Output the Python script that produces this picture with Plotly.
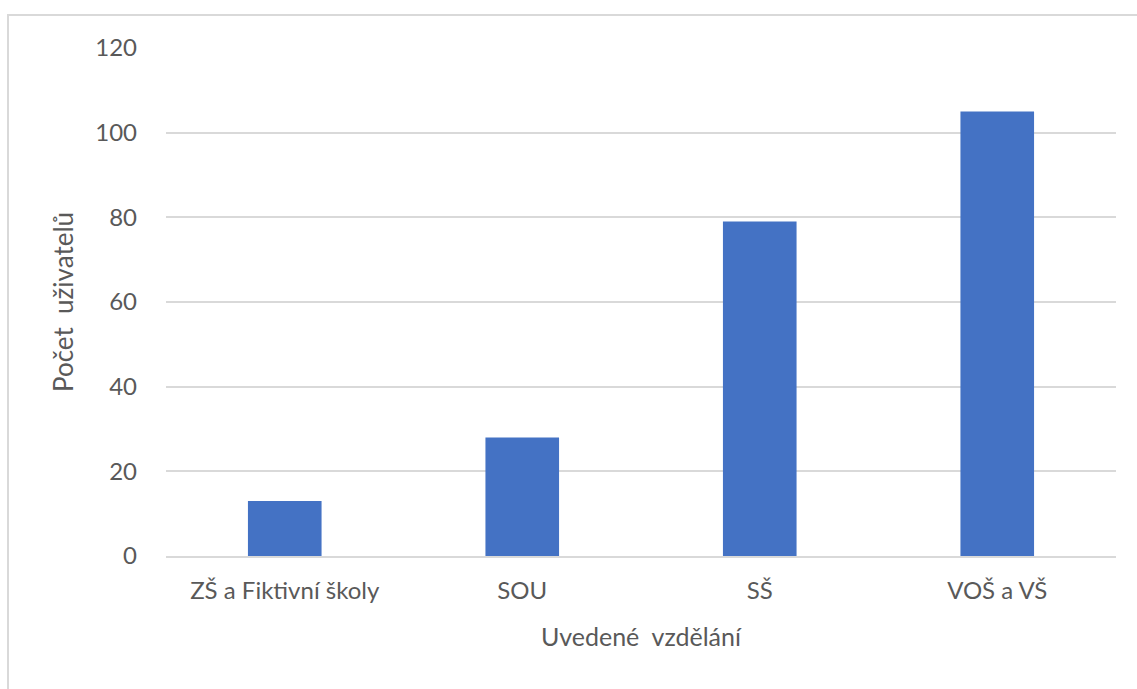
import plotly.graph_objects as go

# Education level vs. number of users
categories = ["ZŠ a Fiktivní školy", "SOU", "SŠ", "VOŠ a VŠ"]
users = [13, 28, 79, 105]
y_ticks = [0, 20, 40, 60, 80, 100, 120]

FONT = "Lato, Open Sans, sans-serif"
GRAY = "#595959"

fig = go.Figure(
    go.Bar(
        x=categories,
        y=users,
        marker=dict(color="#4472C4", line=dict(width=0)),
        hoverinfo="x+y",
    )
)

fig.update_layout(
    width=1137,
    height=689,
    margin=dict(l=166, r=21, t=48, b=133),
    paper_bgcolor="white",
    plot_bgcolor="white",
    bargap=0.69,
    showlegend=False,
    font=dict(family=FONT, color=GRAY, size=24),
    shapes=[
        # chart-area frame (left and top edges visible)
        dict(
            type="rect", xref="paper", yref="paper",
            x0=-0.1663, x1=1.2, y0=-0.5, y1=1.065,
            line=dict(color="#d9d9d9", width=2),
            fillcolor="rgba(0,0,0,0)", layer="below",
        )
    ],
)

fig.update_xaxes(
    title=dict(text="Uvedené  vzdělání", font=dict(size=25, color=GRAY), standoff=26),
    showline=True, linecolor="#d9d9d9", linewidth=2,
    showgrid=False, ticks="", ticklabelstandoff=12,
    tickfont=dict(size=24, color=GRAY),
)

fig.update_yaxes(
    title=dict(text="Počet  uživatelů", font=dict(size=26, color=GRAY), standoff=14),
    range=[0, 120], tickvals=y_ticks,
    showgrid=True, gridcolor="#d9d9d9", gridwidth=2,
    zeroline=False, showline=False, ticks="", ticklabelstandoff=28,
    tickfont=dict(size=24, color=GRAY),
)

fig.write_html("out.html")
